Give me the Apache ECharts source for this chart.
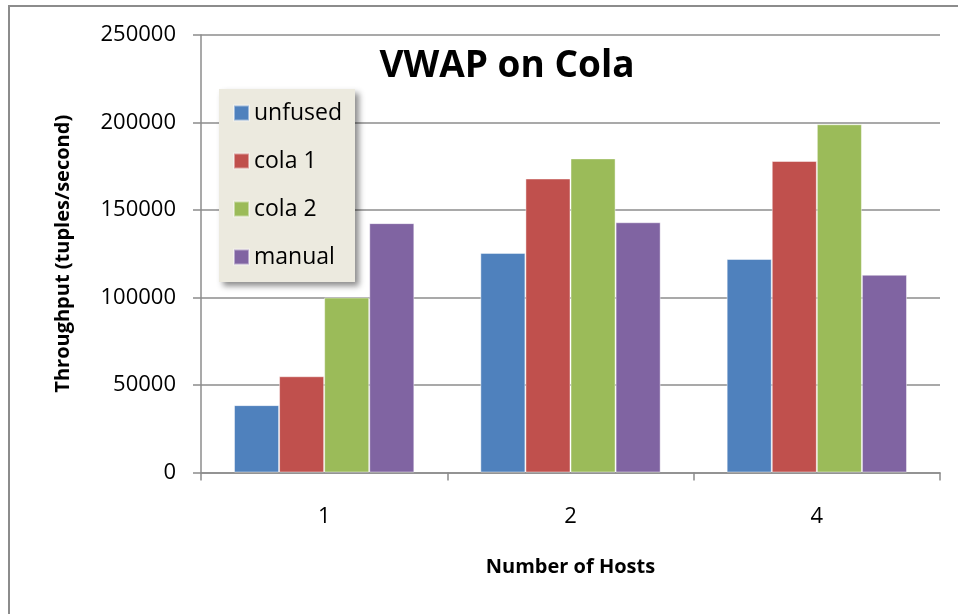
<!DOCTYPE html>
<html>
<head>
<meta charset="utf-8">
<title>VWAP on Cola</title>
<script src="https://cdn.jsdelivr.net/npm/echarts@6/dist/echarts.min.js"></script>
<style>
  html, body { margin: 0; padding: 0; background: #fff; }
  #main { width: 958px; height: 614px; }
</style>
</head>
<body>
<div id="main"></div>
<script>
// data
var hosts = ['1', '2', '4'];
var unfused = [38500, 125500, 122000];
var cola1 = [55000, 168000, 178000];
var cola2 = [100000, 179500, 199000];
var manual = [142500, 143000, 113000];
var yTicks = [0, 50000, 100000, 150000, 200000, 250000];

var chart = echarts.init(document.getElementById('main'), null, { renderer: 'canvas' });

var font = '"Open Sans", "Liberation Sans", sans-serif';

function bar(name, data, color) {
  return {
    name: name,
    type: 'bar',
    data: data,
    barWidth: '18.3%',
    barGap: '0%',
    itemStyle: {
      color: color,
      borderColor: 'rgba(255,255,255,0.45)',
      borderWidth: 1
    }
  };
}

var option = {
  backgroundColor: '#fff',
  animation: false,
  color: ['#4F81BD', '#C0504D', '#9BBB59', '#8064A2'],
  title: {
    text: 'VWAP on Cola',
    left: 502,
    top: 43,
    textAlign: 'center',
    textStyle: {
      fontFamily: font,
      fontWeight: 'bold',
      fontSize: 37,
      color: '#000'
    }
  },
  legend: {
    orient: 'vertical',
    left: 219,
    top: 89,
    width: 134,
    padding: [12, 13, 13, 14],
    itemGap: 24,
    itemWidth: 15,
    itemHeight: 15,
    icon: 'rect',
    backgroundColor: '#ECEADF',
    shadowColor: 'rgba(0,0,0,0.45)',
    shadowBlur: 6,
    shadowOffsetX: 4,
    shadowOffsetY: 4,
    textStyle: {
      fontFamily: font,
      fontSize: 23,
      lineHeight: 24,
      color: '#000'
    },
    data: ['unfused', 'cola 1', 'cola 2', 'manual']
  },
  grid: {
    left: 201,
    right: 18,
    top: 35,
    bottom: 141.5,
    containLabel: false
  },
  xAxis: {
    type: 'category',
    data: hosts,
    name: 'Number of Hosts',
    nameLocation: 'middle',
    nameGap: 85,
    nameTextStyle: {
      fontFamily: font,
      fontWeight: 'bold',
      fontSize: 20,
      color: '#000'
    },
    axisLine: { lineStyle: { color: '#8C8C8C', width: 1.5 } },
    axisTick: { show: true, length: 8, lineStyle: { color: '#8C8C8C', width: 1.5 } },
    axisLabel: {
      margin: 33,
      fontFamily: font,
      fontSize: 22,
      color: '#000'
    }
  },
  yAxis: {
    type: 'value',
    min: yTicks[0],
    max: yTicks[yTicks.length - 1],
    interval: yTicks[1] - yTicks[0],
    name: 'Throughput (tuples/second)',
    nameLocation: 'middle',
    nameGap: 128,
    nameTextStyle: {
      fontFamily: font,
      fontWeight: 'bold',
      fontSize: 20,
      color: '#000'
    },
    axisLine: { show: true, lineStyle: { color: '#8C8C8C', width: 1.5 } },
    axisTick: { show: true, inside: false, length: 8, lineStyle: { color: '#8C8C8C', width: 1.5 } },
    splitLine: { show: true, lineStyle: { color: '#8C8C8C', width: 1.5 } },
    axisLabel: {
      margin: 25,
      fontFamily: font,
      fontSize: 22,
      color: '#000',
      formatter: function (v) { return String(v); }
    }
  },
  graphic: [{
    // outer frame of the original figure
    type: 'polyline',
    silent: true,
    shape: { points: [[9, 620], [9, 6], [965, 6]] },
    style: { stroke: '#8C8C8C', lineWidth: 2, fill: null }
  }],
  series: [
    bar('unfused', unfused, '#4F81BD'),
    bar('cola 1', cola1, '#C0504D'),
    bar('cola 2', cola2, '#9BBB59'),
    bar('manual', manual, '#8064A2')
  ]
};

chart.setOption(option);
</script>
</body>
</html>
